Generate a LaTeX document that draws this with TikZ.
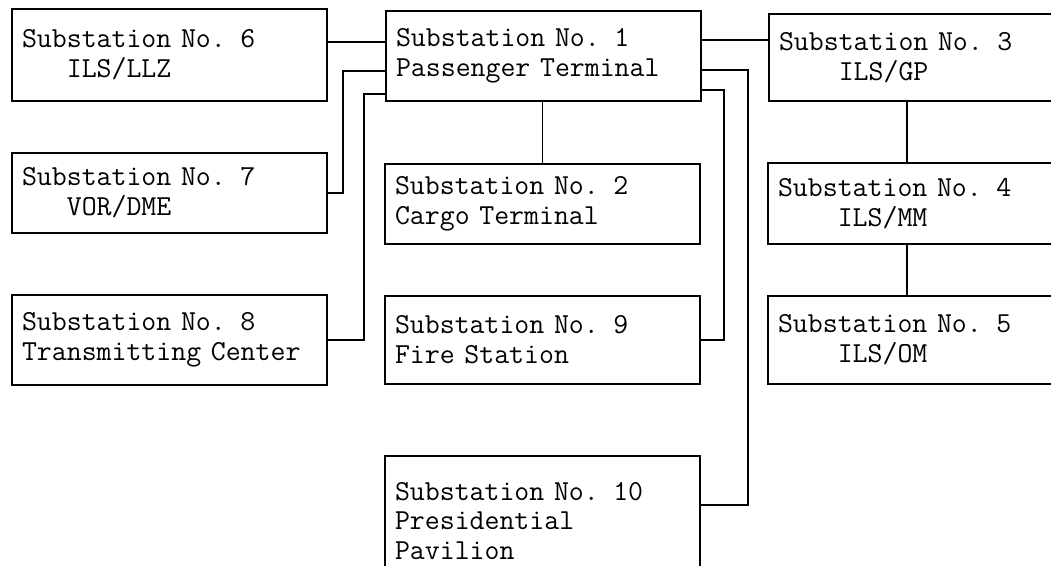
\documentclass[tikz,border=0pt]{standalone}
\usetikzlibrary{calc}
\begin{document}
\begin{tikzpicture}[x=0.02cm,y=-0.02cm,
    station/.style={draw,line width=1.2pt,anchor=north west,align=left,
      text width=5.9cm,inner xsep=0.2cm,inner ysep=0pt,
      font=\ttfamily\fontsize{16.5}{17}\selectfont},
    feeder/.style={line width=1pt}]
  \useasboundingbox (0,0) rectangle (1051,565);
  \clip (0,0) rectangle (1051,565);
  % left column
  \node[station,minimum height=1.84cm] (s6) at (11,8) {Substation No. 6\\\phantom{000}ILS/LLZ};
  \node[station,minimum height=1.6cm] (s7) at (11,152) {Substation No. 7\\\phantom{000}VOR/DME};
  \node[station,minimum height=1.8cm] (s8) at (11,294) {Substation No. 8\\Transmitting Center};
  % middle column
  \node[station,minimum height=1.8cm] (s1) at (385,10) {Substation No. 1\\Passenger Terminal};
  \node[station,minimum height=1.6cm] (s2) at (384,163) {Substation No. 2\\Cargo Terminal};
  \node[station,minimum height=1.76cm] (s9) at (384,295) {Substation No. 9\\Fire Station};
  \node[station,minimum height=2.6cm] (s10) at (384,455) {Substation No. 10\\Presidential\\Pavilion};
  % right column
  \node[station,minimum height=1.74cm] (s3) at (768,13) {Substation No. 3\\\phantom{0000}ILS/GP};
  \node[station,minimum height=1.62cm] (s4) at (767,162) {Substation No. 4\\\phantom{0000}ILS/MM};
  \node[station,minimum height=1.76cm] (s5) at (767,295) {Substation No. 5\\\phantom{0000}ILS/OM};
  % tap points on substation 1
  \coordinate (w1) at ($(s1.north west)+(0,32)$);
  \coordinate (w2) at ($(s1.north west)+(0,61)$);
  \coordinate (w3) at ($(s1.north west)+(0,84)$);
  \coordinate (e1) at ($(s1.north east)+(0,30)$);
  \coordinate (e2) at ($(s1.north east)+(0,60)$);
  \coordinate (e3) at ($(s1.north east)+(0,80)$);
  \coordinate (p10) at ($(s10.north east)+(0,50)$);
  % feeders
  \draw[feeder] (s6.east |- w1) -- (w1);
  \draw[feeder] (s7.east) -- ++(15,0) |- (w2);
  \draw[feeder] (s8.east) -- ++(36,0) |- (w3);
  \draw[feeder] (s2.north |- s1.south) -- (s2.north);
  \draw[feeder] (e1) -- (s3.west |- e1);
  \draw[feeder] (e3) -- ++(22,0) |- (s9.east);
  \draw[feeder] (e2) -- ++(46,0) |- (p10);
  \draw[feeder] ($(s3.south west)+(139,0)$) -- ($(s4.north west)+(140,0)$);
  \draw[feeder] ($(s4.south west)+(140,0)$) -- ($(s5.north west)+(140,0)$);
\end{tikzpicture}
\end{document}
